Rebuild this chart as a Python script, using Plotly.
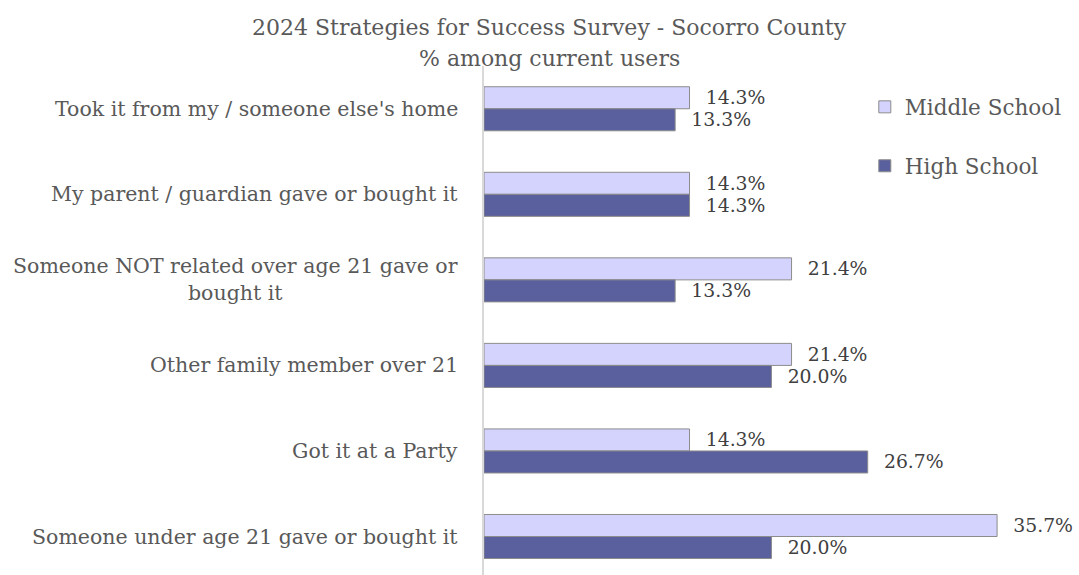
import plotly.graph_objects as go

categories = [
    "Took it from my / someone else's home",
    "My parent / guardian gave or bought it",
    "Someone NOT related over age 21 gave or<br>bought it",
    "Other family member over 21",
    "Got it at a Party",
    "Someone under age 21 gave or bought it",
]
middle_school = [14.3, 14.3, 21.4, 21.4, 14.3, 35.7]
high_school = [13.3, 14.3, 13.3, 20.0, 26.7, 20.0]

FONT = "DejaVu Serif"
TEXT_GREY = "#595959"
LABEL_GREY = "#404040"
LABEL_PAD = "\u2002\u2009"

fig = go.Figure()
fig.add_trace(go.Bar(
    y=categories, x=middle_school, orientation="h", name="Middle School",
    legendgroup="ms",
    marker=dict(color="#D4D3FD", line=dict(color="#8C8C8C", width=1)),
    text=[f"{v:.1f}%" for v in middle_school], textposition="outside",
    texttemplate=LABEL_PAD + "%{text}",
    textfont=dict(family=FONT, size=20.5, color=LABEL_GREY),
    cliponaxis=False,
))
fig.add_trace(go.Bar(
    y=categories, x=high_school, orientation="h", name="High School",
    legendgroup="hs",
    marker=dict(color="#5A5F9E", line=dict(color="#8C8C8C", width=1)),
    text=[f"{v:.1f}%" for v in high_school], textposition="outside",
    texttemplate=LABEL_PAD + "%{text}",
    textfont=dict(family=FONT, size=20.5, color=LABEL_GREY),
    cliponaxis=False,
))

# category labels, centred multi-line text right-aligned against the axis
for c in categories:
    fig.add_annotation(
        x=0, y=c, xref="x", yref="y", text=c, showarrow=False,
        xanchor="right", yanchor="middle", align="center", xshift=-24,
        font=dict(family=FONT, size=20.5, color=TEXT_GREY),
    )

fig.add_annotation(
    x=0.11, y=1.0747, xref="paper", yref="paper", showarrow=False,
    text="2024 Strategies for Success Survey - Socorro County",
    xanchor="center", yanchor="middle",
    font=dict(family=FONT, size=22, color=TEXT_GREY),
)
fig.add_annotation(
    x=0.11, y=1.0157, xref="paper", yref="paper", showarrow=False,
    text="% among current users",
    xanchor="center", yanchor="middle",
    font=dict(family=FONT, size=22, color=TEXT_GREY),
)

fig.update_layout(
    width=1079, height=575,
    margin=dict(l=484, r=0, t=66, b=0),
    paper_bgcolor="white", plot_bgcolor="white",
    barmode="group", bargap=0.485, bargroupgap=0,
    showlegend=True,
    legend=dict(
        x=0.64, y=0.96, xanchor="left", yanchor="top",
        traceorder="grouped", tracegroupgap=28,
        font=dict(family=FONT, size=21.5, color=TEXT_GREY),
        bgcolor="rgba(0,0,0,0)", itemwidth=30,
    ),
    xaxis=dict(range=[0, 41.4], visible=False, fixedrange=True),
    yaxis=dict(
        range=[5.45, -0.5], showticklabels=False, showgrid=False,
        showline=True, linecolor="#D9D9D9", linewidth=2, ticks="",
        zeroline=False,
    ),
)

fig.write_html("out.html")
